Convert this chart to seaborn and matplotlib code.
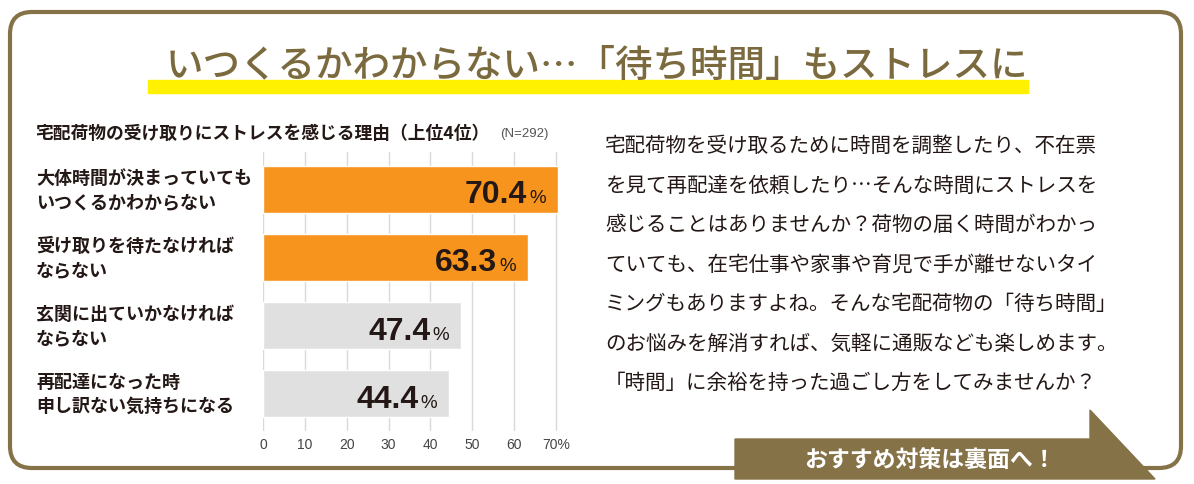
import pandas as pd
import seaborn as sns
import matplotlib.pyplot as plt
from matplotlib.patches import FancyBboxPatch, Polygon, Rectangle
from matplotlib import transforms

# --- data ---
title = "いつくるかわからない…「待ち時間」もストレスに"
subtitle = "宅配荷物の受け取りにストレスを感じる理由（上位4位）"
n_note = "(N=292)"
reasons = [
    "大体時間が決まっていても\nいつくるかわからない",
    "受け取りを待たなければ\nならない",
    "玄関に出ていかなければ\nならない",
    "再配達になった時\n申し訳ない気持ちになる",
]
percent = [70.4, 63.3, 47.4, 44.4]
group = ["top", "top", "rest", "rest"]
x_ticks = [0, 10, 20, 30, 40, 50, 60, 70]
x_tick_labels = ["0", "10", "20", "30", "40", "50", "60", "70%"]
body_lines = [
    "宅配荷物を受け取るために時間を調整したり、不在票",
    "を見て再配達を依頼したり…そんな時間にストレスを",
    "感じることはありませんか？荷物の届く時間がわかっ",
    "ていても、在宅仕事や家事や育児で手が離せないタイ",
    "ミングもありますよね。そんな宅配荷物の「待ち時間」",
    "のお悩みを解消すれば、気軽に通販なども楽しめます。",
    "「時間」に余裕を持った過ごし方をしてみませんか？",
]
banner = "おすすめ対策は裏面へ！"

sns.set_theme(style="white")
plt.rcParams['font.family'] = ['Noto Sans CJK JP', 'DejaVu Sans']
narrow = ['Liberation Sans', 'DejaVu Sans']

brown = '#857247'
ink = '#231815'

W, H = 1194, 485
fig = plt.figure(figsize=(W / 100, H / 100), dpi=100)

# background layer in pixel units
bg = fig.add_axes([0, 0, 1, 1])
bg.set_xlim(0, W)
bg.set_ylim(H, 0)
bg.axis('off')

bg.add_patch(FancyBboxPatch((10, 13), 1171, 456, boxstyle="round,pad=0,rounding_size=22",
                            fc='white', ec=brown, lw=3, zorder=0))
bg.add_patch(Rectangle((148, 81), 880, 13, color='#FFF100', zorder=1))
bg.text(597, 66, title, ha='center', va='center', fontsize=27, color='#7B6A3E',
        fontweight='medium', zorder=2)

bg.text(35, 134, subtitle, ha='left', va='center', fontsize=12.8, fontweight='bold', color=ink)
bg.text(500, 134, n_note, ha='left', va='center', fontsize=9.5, color='#555555', family=narrow)

for i, line in enumerate(body_lines):
    bg.text(605, 146 + i * 39.5, line, ha='left', va='center', fontsize=14.8, color=ink)

bg.add_patch(Polygon([(735, 440), (1090, 440), (1090, 411), (1155, 480), (735, 480)],
                     closed=True, color=brown, zorder=3))
bg.text(930, 461, banner, ha='center', va='center', fontsize=16.5, fontweight='bold',
        color='white', zorder=4)

# bar chart
px_per_unit = (556 - 263) / 70
left, top, bottom = 263, 153, 432
right = left + 72 * px_per_unit
ax = fig.add_axes([left / W, 1 - bottom / H, (right - left) / W, (bottom - top) / H])
ax.patch.set_alpha(0)

df = pd.DataFrame({'reason': reasons, 'percent': percent, 'group': group})
sns.barplot(data=df, y='reason', x='percent', hue='group',
            palette={'top': '#F7941D', 'rest': '#E0E0E0'},
            width=0.68, dodge=False, legend=False, ax=ax, saturation=1)

ax.set_xlim(0, 72)
ax.set_ylim(3.55, -0.55)
ax.set_xticks(x_ticks, x_tick_labels)
ax.set_yticks([])
ax.set_xlabel('')
ax.set_ylabel('')
ax.xaxis.grid(True, color='#D9D9D9', lw=1)
ax.set_axisbelow(True)
for s in ax.spines.values():
    s.set_visible(False)
ax.tick_params(axis='x', length=0, pad=4, labelsize=10, labelcolor='#444444')
for lab in ax.get_xticklabels():
    lab.set_fontfamily(narrow)

trans = transforms.blended_transform_factory(bg.transData, ax.transData)
renderer = fig.canvas.get_renderer()
for i, (reason, v) in enumerate(zip(reasons, percent)):
    ax.text(36, i, reason, transform=trans, ha='left', va='center', fontsize=13,
            fontweight='bold', color=ink, linespacing=1.35)
    pct = ax.annotate("%", xy=(v, i), xytext=(-12, -13), textcoords='offset pixels',
                      ha='right', va='baseline', fontsize=13.5, family=narrow, color=ink)
    w = pct.get_window_extent(renderer).width
    ax.annotate(f"{v:.1f}", xy=(v, i), xytext=(-12 - w - 2, -13), textcoords='offset pixels',
                ha='right', va='baseline', fontsize=23, fontweight='bold',
                family=narrow, color=ink)

fig.savefig('out.png', dpi=100)
